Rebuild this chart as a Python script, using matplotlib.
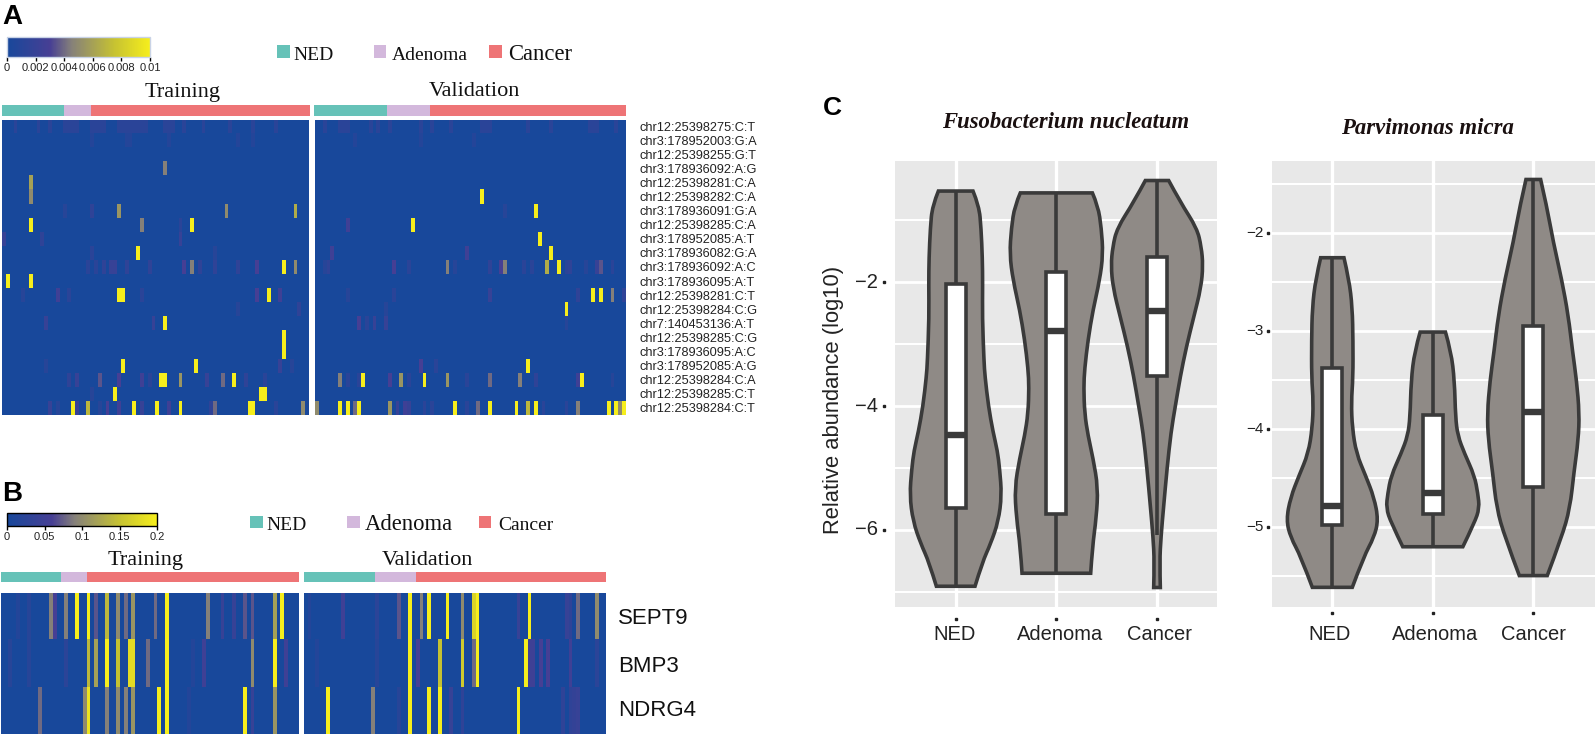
import numpy as np
import matplotlib
matplotlib.use("Agg")
import matplotlib.pyplot as plt
from matplotlib.colors import LinearSegmentedColormap, Normalize
from matplotlib.cm import ScalarMappable
from matplotlib.path import Path
from matplotlib.patches import PathPatch, Rectangle
from matplotlib.transforms import blended_transform_factory

W, H = 1595, 735
SANS = "Liberation Sans"
SERIF = "Liberation Serif"

# ---------- data ----------
variants = ["chr12:25398275:C:T", "chr3:178952003:G:A", "chr12:25398255:G:T", "chr3:178936092:A:G",
            "chr12:25398281:C:A", "chr12:25398282:C:A", "chr3:178936091:G:A", "chr12:25398285:C:A",
            "chr3:178952085:A:T", "chr3:178936082:G:A", "chr3:178936092:A:C", "chr3:178936095:A:T",
            "chr12:25398281:C:T", "chr12:25398284:C:G", "chr7:140453136:A:T", "chr12:25398285:C:G",
            "chr3:178936095:A:C", "chr3:178952085:A:G", "chr12:25398284:C:A", "chr12:25398285:C:T",
            "chr12:25398284:C:T"]
genes = ["SEPT9", "BMP3", "NDRG4"]
groups = ["NED", "Adenoma", "Cancer"]
group_colors = ["#66c2b8", "#d3b8dc", "#ee7476"]

a_train_counts = [16, 7, 57]
a_valid_counts = [19, 11, 51]
b_train_counts = [16, 7, 57]
b_valid_counts = [19, 11, 51]

a_train_row0 = [3, 9, 12, 16, 17, 18, 19, 23, 24, 25, 26, 30, 31, 32, 33, 34, 35, 36, 37, 42, 43, 44, 47, 52, 59, 65, 71]
a_train_row1 = [23, 32, 33, 43, 61, 65]
a_valid_row0 = [2, 6, 7, 8, 14, 16, 19, 27, 30, 35, 43, 44, 45, 55, 61, 71, 72, 73, 78]
a_valid_row1 = [10, 27, 41]

a_train_cells = [
    (3, 42, .0045), (4, 7, .006), (5, 7, .005), (6, 30, .0055), (6, 58, .005), (6, 76, .0065), (6, 23, .0015), (6, 16, .001),
    (7, 7, .01), (7, 36, .0045), (7, 49, .01), (7, 46, .0012),
    (8, 0, .002), (8, 10, .0015), (8, 46, .002), (9, 35, .01), (9, 23, .0012), (9, 55, .001),
    (10, 22, .0012), (10, 24, .0012), (10, 26, .0015), (10, 28, .002), (10, 29, .002), (10, 32, .0015), (10, 38, .0015),
    (10, 47, .003), (10, 49, .0045), (10, 51, .0015), (10, 55, .0015), (10, 61, .0015), (10, 66, .003),
    (10, 73, .01), (10, 76, .005), (11, 1, .01), (11, 7, .01),
    (12, 30, .01), (12, 31, .01), (12, 69, .01), (12, 66, .003), (12, 72, .0025), (12, 14, .0025), (12, 5, .001), (12, 17, .0012), (12, 36, .0012),
    (13, 61, .001), (13, 77, .0015), (14, 42, .01), (14, 11, .002), (14, 39, .002),
    (15, 73, .01), (16, 73, .01), (17, 31, .01), (17, 50, .01), (17, 72, .002), (17, 75, .001), (17, 11, .001),
    (18, 25, .0035), (18, 30, .003), (18, 36, .0025), (18, 41, .01), (18, 42, .01), (18, 46, .0055), (18, 53, .002),
    (18, 57, .004), (18, 60, .01), (18, 63, .0015), (18, 68, .0012), (18, 17, .0015), (18, 19, .002), (18, 38, .0012),
    (19, 29, .01), (19, 67, .01), (19, 68, .01), (19, 23, .001),
    (20, 12, .002), (20, 18, .01), (20, 19, .002), (20, 22, .007), (20, 27, .003), (20, 30, .0025), (20, 34, .01),
    (20, 36, .002), (20, 40, .01), (20, 43, .0025), (20, 46, .01), (20, 54, .0015), (20, 55, .004), (20, 64, .01),
    (20, 65, .01), (20, 71, .0012), (20, 78, .005), (20, 14, .001), (20, 25, .001)]

a_valid_cells = [
    (5, 43, .01), (6, 57, .01), (6, 49, .001), (7, 8, .0025), (7, 25, .01), (8, 58, .01), (9, 61, .01), (9, 4, .0025), (9, 39, .0025),
    (10, 3, .0015), (10, 2, .001), (10, 20, .003), (10, 24, .0012), (10, 34, .0045), (10, 36, .001), (10, 45, .0015),
    (10, 48, .003), (10, 49, .0045), (10, 54, .0012), (10, 56, .0012), (10, 60, .0065), (10, 63, .01), (10, 65, .0012),
    (10, 66, .0015), (10, 73, .002), (10, 74, .0035), (10, 70, .001), (10, 77, .0012),
    (12, 72, .01), (12, 74, .01), (12, 77, .0045), (12, 45, .002), (12, 68, .0015), (12, 80, .0015), (12, 20, .0012), (12, 8, .001),
    (13, 65, .01), (13, 18, .001), (14, 11, .003), (14, 13, .0012), (14, 15, .002), (14, 18, .002), (14, 65, .001),
    (17, 55, .01), (17, 27, .003), (17, 31, .0012),
    (18, 6, .0045), (18, 8, .0012), (18, 11, .0012), (18, 12, .01), (18, 19, .003), (18, 22, .0055), (18, 24, .0012), (18, 28, .01),
    (18, 34, .0055), (18, 39, .0012), (18, 45, .004), (18, 53, .0045), (18, 57, .0015), (18, 68, .0025), (18, 69, .01),
    (18, 77, .001), (20, 0, .005), (20, 6, .01), (20, 8, .01), (20, 10, .004), (20, 11, .01), (20, 19, .0055), (20, 21, .002),
    (20, 23, .0025), (20, 24, .002), (20, 28, .0012), (20, 30, .0012), (20, 36, .01), (20, 39, .0012), (20, 42, .004), (20, 45, .01),
    (20, 52, .01), (20, 55, .007), (20, 57, .01), (20, 59, .0012), (20, 65, .0012), (20, 68, .0045), (20, 76, .01), (20, 78, .01),
    (20, 79, .005), (20, 80, .01)]

b_train_cells = [
    (0, 13, .09), (0, 17, .09), (0, 20, .2), (0, 23, .2), (0, 25, .07), (0, 28, .14), (0, 31, .1), (0, 33, .08), (0, 35, .11),
    (0, 41, .08), (0, 44, .2), (0, 55, .09), (0, 59, .04), (0, 62, .04), (0, 65, .07), (0, 67, .07), (0, 73, .12), (0, 75, .2),
    (0, 4, .015), (0, 7, .02), (0, 14, .06),
    (1, 23, .14), (1, 25, .12), (1, 28, .2), (1, 31, .15), (1, 34, .18), (1, 35, .18), (1, 39, .08), (1, 44, .2), (1, 54, .05),
    (1, 67, .1), (1, 73, .2), (1, 76, .05), (1, 2, .02), (1, 7, .02), (1, 17, .025), (1, 51, .015),
    (2, 10, .08), (2, 22, .1), (2, 23, .19), (2, 28, .09), (2, 31, .1), (2, 33, .09), (2, 35, .11), (2, 42, .2), (2, 44, .2),
    (2, 65, .2), (2, 67, .04), (2, 73, .11), (2, 50, .015)]

b_valid_cells = [
    (0, 10, .05), (0, 25, .07), (0, 28, .2), (0, 31, .09), (0, 33, .2), (0, 38, .2), (0, 42, .1), (0, 45, .17), (0, 46, .2),
    (0, 57, .04), (0, 60, .2), (0, 70, .04), (0, 71, .03), (0, 73, .08), (0, 78, .1), (0, 19, .025), (0, 1, .015),
    (1, 28, .2), (1, 30, .06), (1, 36, .15), (1, 42, .16), (1, 45, .08), (1, 46, .2), (1, 59, .2), (1, 60, .05), (1, 61, .05),
    (1, 63, .06), (1, 65, .06), (1, 71, .05), (1, 78, .025), (1, 19, .02), (1, 3, .015),
    (2, 6, .2), (2, 18, .09), (2, 28, .2), (2, 33, .2), (2, 36, .2), (2, 39, .04), (2, 42, .03), (2, 57, .2), (2, 69, .03),
    (2, 71, .03), (2, 72, .035), (2, 73, .04), (2, 25, .02)]

# violin outlines: (abundance, half width) for each group
fuso_ned_y = [-0.53, -0.77, -1.13, -1.61, -2.03, -2.57, -3.28, -3.52, -4.0, -4.42, -4.72, -5.02, -5.44, -5.86, -6.22, -6.52, -6.91]
fuso_ned_w = [.172, .232, .252, .265, .268, .265, .281, .291, .325, .371, .414, .437, .457, .424, .348, .265, .192]
fuso_ade_y = [-.56, -.77, -1.13, -1.55, -1.97, -2.45, -2.93, -3.40, -3.70, -4.12, -4.48, -4.84, -5.32, -5.80, -6.28, -6.70]
fuso_ade_w = [.358, .414, .447, .464, .430, .364, .315, .281, .272, .281, .315, .364, .414, .397, .358, .341]
fuso_can_y = [-.36, -.71, -1.13, -1.43, -1.73, -2.09, -2.57, -3.05, -3.52, -4.0, -4.42, -5.02, -5.62, -6.10, -6.52, -6.93]
fuso_can_w = [.116, .232, .397, .44, .457, .437, .364, .291, .232, .182, .139, .099, .066, .04, .026, .033]
fuso_q3 = [-2.03, -1.83, -1.60]
fuso_med = [-4.47, -2.79, -2.46]
fuso_q1 = [-5.65, -5.75, -3.52]
fuso_whisk_hi = [-0.53, -0.56, -0.36]
fuso_whisk_lo = [-6.91, -6.70, -6.09]

parv_ned_y = [-2.25, -2.47, -2.76, -3.10, -3.47, -3.73, -3.99, -4.25, -4.48, -4.70, -4.93, -5.11, -5.30, -5.62]
parv_ned_w = [.116, .166, .199, .206, .206, .189, .199, .239, .332, .415, .458, .415, .315, .199]
parv_ade_y = [-3.01, -3.21, -3.51, -3.88, -4.07, -4.25, -4.48, -4.66, -4.81, -4.96, -5.205]
parv_ade_w = [.126, .182, .216, .226, .249, .315, .415, .448, .464, .415, .299]
parv_can_y = [-1.45, -1.72, -2.09, -2.47, -2.84, -3.21, -3.51, -3.84, -4.11, -4.44, -4.81, -5.11, -5.50]
parv_can_w = [.073, .133, .199, .282, .348, .391, .431, .458, .448, .405, .365, .282, .139]
parv_q3 = [-3.38, -3.86, -2.95]
parv_med = [-4.79, -4.66, -3.83]
parv_q1 = [-4.98, -4.87, -4.59]
parv_whisk_hi = [-2.25, -3.01, -1.45]
parv_whisk_lo = [-5.62, -5.205, -5.50]

a_cbar_ticks = [0, .002, .004, .006, .008, .01]
a_cbar_labels = ["0", "0.002", "0.004", "0.006", "0.008", "0.01"]
b_cbar_ticks = [0, .05, .1, .15, .2]
b_cbar_labels = ["0", "0.05", "0.1", "0.15", "0.2"]

# ---------- helpers ----------
cmap = LinearSegmentedColormap.from_list("heat", [(0, "#18489b"), (.3, "#473f94"), (.45, "#85807a"),
                                                  (.75, "#c6c232"), (1, "#f6ee1c")])
fig = plt.figure(figsize=(W / 100, H / 100), dpi=100, facecolor="white")


def axpx(x0, y0, x1, y1, **kw):
    return fig.add_axes([x0 / W, 1 - y1 / H, (x1 - x0) / W, (y1 - y0) / H], **kw)


def txt(x, y, s, **kw):
    kw.setdefault("ha", "center")
    kw.setdefault("va", "center")
    return fig.text(x / W, 1 - y / H, s, **kw)


def heat(box, nrows, ncols, cells, vmax, extra=()):
    m = np.zeros((nrows, ncols))
    for r, c, v in cells:
        m[r, c] = v
    for r, cols, v in extra:
        m[r, cols] = v
    ax = axpx(*box)
    ax.imshow(m, cmap=cmap, vmin=0, vmax=vmax, aspect="auto", interpolation="nearest")
    ax.axis("off")


def annot(box, counts):
    ax = axpx(*box)
    left = 0
    for n, col in zip(counts, group_colors):
        ax.barh(0, n, left=left, height=1, color=col, linewidth=0)
        left += n
    ax.set_xlim(0, sum(counts))
    ax.set_ylim(-.5, .5)
    ax.axis("off")


def cbar(box, vmax, ticks, labels, edge):
    ax = axpx(*box)
    cb = fig.colorbar(ScalarMappable(Normalize(0, vmax), cmap), cax=ax, orientation="horizontal")
    cb.set_ticks(ticks, labels=labels, fontsize=8, fontname=SANS, color="#222222")
    ax.tick_params(length=3, width=1, pad=1.5, color="black")
    cb.outline.set_edgecolor(edge)
    cb.outline.set_linewidth(1)


def legend(y, items):
    for (sx, tx, label, size), col in zip(items, group_colors):
        fig.add_artist(Rectangle((sx / W, 1 - (y + 6) / H), 12.5 / W, 12.5 / H, transform=fig.transFigure,
                                 facecolor=col, edgecolor="none"))
        txt(tx, y + 3, label, ha="left", fontname=SERIF, fontsize=size, color="#111111")


def smooth_path(xs, ys):
    pts = list(zip(xs, ys))
    verts = [pts[0]]
    codes = [Path.MOVETO]
    for i in range(1, len(pts) - 1):
        a, b = pts[i], pts[i + 1]
        end = b if i == len(pts) - 2 else ((a[0] + b[0]) / 2, (a[1] + b[1]) / 2)
        verts += [a, end]
        codes += [Path.CURVE3, Path.CURVE3]
    return verts, codes


DARK = "#3a3a3a"
GREY = "#8f8a86"


def violin_panel(box, ylim, xlim, major, minor, labels, outlines, q3, med, q1, hi, lo, tick_size, dot_y, tick_gap):
    ax = axpx(*box, facecolor="#e8e8e8")
    ax.set_xlim(*xlim)
    ax.set_ylim(*ylim)
    for s in ax.spines.values():
        s.set_visible(False)
    ax.set_axisbelow(True)
    ax.set_yticks(major)
    ax.set_yticks(minor, minor=True)
    ax.set_xticks([1, 2, 3])
    ax.grid(True, axis="y", which="major", color="white", lw=2.0)
    ax.grid(True, axis="y", which="minor", color="white", lw=1.5)
    ax.grid(True, axis="x", which="major", color="white", lw=2.4)
    ax.tick_params(axis="both", which="both", length=0)
    ax.set_xticklabels([])
    ax.set_yticklabels([])
    for i, (ys, ws) in enumerate(outlines):
        c = i + 1
        ys = np.array(ys)
        ws = np.array(ws)
        v1, c1 = smooth_path(c - ws, ys)
        v2, c2 = smooth_path((c + ws)[::-1], ys[::-1])
        verts = v1 + v2 + [v1[0]]
        codes = c1 + [Path.LINETO] + c2[1:] + [Path.CLOSEPOLY]
        ax.add_patch(PathPatch(Path(verts, codes), facecolor=GREY, edgecolor=DARK, lw=2.6, joinstyle="miter", zorder=3))
        ax.plot([c, c], [lo[i], hi[i]], color=DARK, lw=2.6, solid_capstyle="butt", zorder=4)
        ax.add_patch(Rectangle((c - .1, q1[i]), .2, q3[i] - q1[i], facecolor="white", edgecolor=DARK, lw=2.6, zorder=5))
        ax.plot([c - .1, c + .1], [med[i], med[i]], color=DARK, lw=4.6, solid_capstyle="butt", zorder=6)
    # small tick dots and labels
    tr = blended_transform_factory(ax.transData, fig.transFigure)
    ax.plot([1, 2, 3], [1 - dot_y / H] * 3, ls="", marker="s", ms=2, color="#222222", transform=tr, clip_on=False)
    tr2 = blended_transform_factory(fig.transFigure, ax.transData)
    xdot = (box[0] - 11.5 + (0 if tick_size > 12 else 7.5)) / W
    ax.plot([xdot] * len(major), major, ls="", marker="s", ms=2, color="#222222", transform=tr2, clip_on=False)
    for m in major:
        ax.text((box[0] - tick_gap) / W, m, f"\u2212{abs(m)}", transform=tr2, ha="right", va="center",
                fontname=SANS, fontsize=tick_size, color="#222222")
    return ax


# ---------- panel A ----------
a_extra_t = [(0, a_train_row0, .0012), (1, a_train_row1, .0008)]
a_extra_v = [(0, a_valid_row0, .0012), (1, a_valid_row1, .0008)]
heat((2, 119.5, 309, 415.5), 21, 80, a_train_cells, .01, a_extra_t)
heat((315, 119.5, 626, 415.5), 21, 81, a_valid_cells, .01, a_extra_v)
annot((2, 105, 310, 116), a_train_counts)
annot((314, 105, 626, 116), a_valid_counts)
cbar((7, 37, 150, 57), .01, a_cbar_ticks, a_cbar_labels, "#c9d3e6")
legend(52, [(277, 293, "NED", 14), (373.5, 392, "Adenoma", 14), (489, 508, "Cancer", 16.3)])
txt(183, 92, "Training", fontname=SERIF, fontsize=16, color="#111111")
txt(474, 92, "Validation", fontname=SERIF, fontsize=16, color="#111111")
for i, v in enumerate(variants):
    txt(639, 120.5 + (i + .5) * 296 / 21, v, ha="left", fontname=SANS, fontsize=9.2, color="#222222")

# ---------- panel B ----------
heat((1, 592.7, 298, 734), 3, 80, b_train_cells, .2)
heat((304, 592.7, 605.5, 734), 3, 81, b_valid_cells, .2)
annot((1, 572, 299, 582), b_train_counts)
annot((304, 572, 605.5, 582), b_valid_counts)
cbar((7, 513, 157, 526), .2, b_cbar_ticks, b_cbar_labels, "black")
legend(522, [(250, 266, "NED", 14), (347, 365, "Adenoma", 16.3), (479, 498, "Cancer", 14)])
txt(146, 560.5, "Training", fontname=SERIF, fontsize=16, color="#111111")
txt(427, 560.5, "Validation", fontname=SERIF, fontsize=16, color="#111111")
for y, g in zip([618, 666, 711], genes):
    txt(618, y, g, ha="left", fontname=SANS, fontsize=16, color="#111111")

# ---------- panel C ----------
violin_panel((895, 160.7, 1216.7, 606.7), (-7.24, -0.04), (.397, 3.593), [-2, -4, -6], [-1, -3, -5, -7], groups,
             [(fuso_ned_y, fuso_ned_w), (fuso_ade_y, fuso_ade_w), (fuso_can_y, fuso_can_w)],
             fuso_q3, fuso_med, fuso_q1, fuso_whisk_hi, fuso_whisk_lo, 14.5, 619, 17)
violin_panel((1271.7, 160.7, 1595, 606.7), (-5.818, -1.258), (.397, 3.614), [-2, -3, -4, -5],
             [-1.5, -2.5, -3.5, -4.5, -5.5], groups,
             [(parv_ned_y, parv_ned_w), (parv_ade_y, parv_ade_w), (parv_can_y, parv_can_w)],
             parv_q3, parv_med, parv_q1, parv_whisk_hi, parv_whisk_lo, 11, 613, 8.5)
for x, g in zip([955, 1060, 1159], groups):
    txt(x, 634, g, fontname=SANS, fontsize=14.5, color="#222222")
for x, g in zip([1330, 1435, 1533], groups):
    txt(x, 634, g, fontname=SANS, fontsize=14.5, color="#222222")
txt(834, 400, "Relative abundance (log10)", rotation=90, fontname=SANS, fontsize=15.8, color="#222222")
txt(1066, 123, "Fusobacterium nucleatum", fontname=SERIF, fontstyle="italic", fontweight="bold", fontsize=16.3, color="#1a1010")
txt(1427, 129, "Parvimonas micra", fontname=SERIF, fontstyle="italic", fontweight="bold", fontsize=16.4, color="#1a1010")

# panel letters
txt(2, 17.5, "A", ha="left", fontname=SANS, fontweight="bold", fontsize=20, color="black")
txt(2, 494, "B", ha="left", fontname=SANS, fontweight="bold", fontsize=20, color="black")
txt(823, 108, "C", ha="left", fontname=SANS, fontweight="bold", fontsize=19, color="black")

fig.savefig("out.png", dpi=100, facecolor="white")
